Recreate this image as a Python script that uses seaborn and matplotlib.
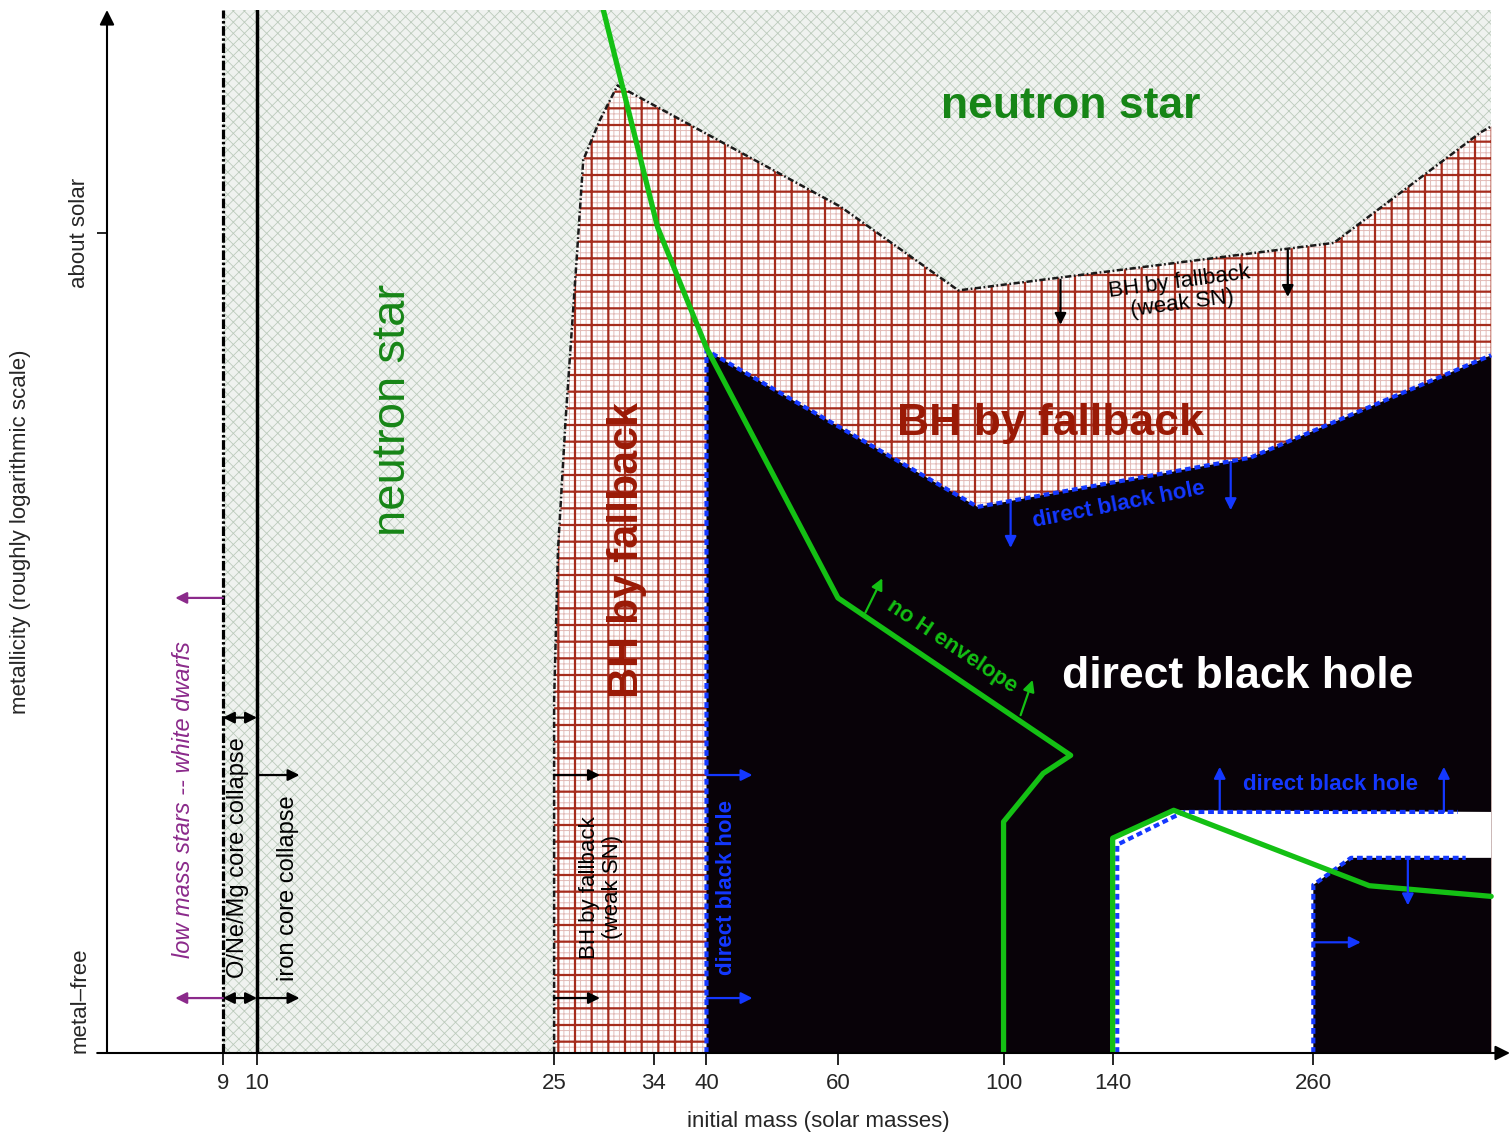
import matplotlib
matplotlib.use('Agg')
import matplotlib.pyplot as plt
from matplotlib.ticker import NullLocator
import pandas as pd
import seaborn as sns

# x = initial mass (solar masses, log axis), y = metallicity index (0 = metal-free, 1 = about solar)
mass_ticks = [9, 10, 25, 34, 40, 60, 100, 140, 260]
mass_tick_labels = ['9', '10', '25', '34', '40', '60', '100', '140', '260']
z_ticks = [0, 1]
z_tick_labels = ['metal\u2013free', 'about solar']

M_WD, M_IRON, M_MAX = 9, 10, 450
Z_TOP = 1.272

# neutron star | BH by fallback boundary (dash-dot)
fallback_mass = [25, 25, 25.3, 25.9, 26.85, 27.35, 28.8, 30.4, 60.5, 87, 277, 436, 450]
fallback_z = [0, 0.43, 0.613, 0.772, 0.979, 1.089, 1.138, 1.18, 1.032, 0.93, 0.988, 1.123, 1.13]

# BH by fallback | direct black hole boundary (blue dashed)
direct_mass = [40, 40, 92.3, 214, 450]
direct_z = [0, 0.857, 0.666, 0.726, 0.851]

# pair-instability gap (no remnant)
pisn_mass = [140, 140, 169, 450, 450, 292, 260, 260]
pisn_z = [0, 0.262, 0.296, 0.294, 0.238, 0.238, 0.205, 0]
pisn_left_mass = [142, 142, 169, 175, 406]
pisn_left_z = [0, 0.254, 0.288, 0.294, 0.294]
pisn_right_mass = [260, 260, 292, 416]
pisn_right_z = [0, 0.205, 0.238, 0.238]

# loss of hydrogen envelope (green)
noh_mass = [29.1, 34.4, 40, 60, 123, 113, 100, 100]
noh_z = [1.272, 1.007, 0.86, 0.555, 0.363, 0.341, 0.282, 0]
noh2_mass = [140, 140, 169, 309, 450]
noh2_z = [0, 0.262, 0.296, 0.204, 0.191]

GREEN_TXT = '#168516'
GREEN = '#14c014'
RED_TXT = '#9a1a06'
BLUE = '#1438ff'
PURPLE = '#8b2a8b'
BH_BLACK = '#080208'

# text labels: text, mass, z, rotation, color, size, weight, style
labels = [
    ('neutron star', 123, 1.154, 0, GREEN_TXT, 32, 'bold', 'normal'),
    ('neutron star', 15.2, 0.784, 90, GREEN_TXT, 34, 'normal', 'normal'),
    ('BH by fallback', 31.3, 0.613, 90, RED_TXT, 31, 'bold', 'normal'),
    ('BH by fallback', 115.6, 0.768, 0, RED_TXT, 32, 'bold', 'normal'),
    ('direct black hole', 205.9, 0.459, 0, 'white', 32, 'bold', 'normal'),
    ('direct black hole', 42.5, 0.202, 90, BLUE, 16, 'bold', 'normal'),
    ('direct black hole', 142.6, 0.668, 11, BLUE, 16, 'bold', 'normal'),
    ('direct black hole', 274.4, 0.327, 0, BLUE, 16, 'bold', 'normal'),
    ('BH by fallback\n(weak SN)', 28.9, 0.202, 90, 'black', 16, 'normal', 'normal'),
    ('BH by fallback\n(weak SN)', 172.7, 0.927, 7.6, 'black', 16, 'normal', 'normal'),
    ('no H envelope', 85.4, 0.496, -33.7, GREEN, 16, 'bold', 'normal'),
    ('low mass stars -- white dwarfs', 7.96, 0.309, 90, PURPLE, 17, 'normal', 'italic'),
    ('O/Ne/Mg core collapse', 9.43, 0.238, 90, 'black', 17, 'normal', 'normal'),
    ('iron core collapse', 11.0, 0.201, 90, 'black', 17, 'normal', 'normal'),
]

# arrows: mass0, z0, mass1, z1, color, style
arrows = [
    (9, 0.555, 7.77, 0.555, PURPLE, '-|>'),
    (9, 0.067, 7.77, 0.067, PURPLE, '-|>'),
    (9, 0.409, 10, 0.409, 'black', '<|-|>'),
    (9, 0.067, 10, 0.067, 'black', '<|-|>'),
    (10, 0.339, 11.4, 0.339, 'black', '-|>'),
    (10, 0.067, 11.4, 0.067, 'black', '-|>'),
    (25, 0.339, 28.8, 0.339, 'black', '-|>'),
    (25, 0.067, 28.8, 0.067, 'black', '-|>'),
    (40, 0.339, 46.1, 0.339, BLUE, '-|>'),
    (40, 0.067, 46.1, 0.067, BLUE, '-|>'),
    (119.2, 0.943, 119.2, 0.888, 'black', '-|>'),
    (240.3, 0.979, 240.3, 0.922, 'black', '-|>'),
    (102.2, 0.674, 102.2, 0.616, BLUE, '-|>'),
    (201.5, 0.721, 201.5, 0.662, BLUE, '-|>'),
    (65.3, 0.537, 68.8, 0.579, GREEN, '-|>'),
    (105.4, 0.412, 109.4, 0.455, GREEN, '-|>'),
    (194.8, 0.294, 194.8, 0.349, BLUE, '-|>'),
    (388.9, 0.294, 388.9, 0.349, BLUE, '-|>'),
    (348, 0.238, 348, 0.180, BLUE, '-|>'),
    (260, 0.135, 301, 0.135, BLUE, '-|>'),
]

sns.set_theme(style='ticks')
plt.rcParams['font.family'] = ['Liberation Sans', 'DejaVu Sans']


def hatched(ax, xs, ys, face, hcolor, hatch, hlw, z):
    p = ax.fill(xs, ys, facecolor=face, edgecolor=hcolor, hatch=hatch, linewidth=0, zorder=z)[0]
    if hasattr(p, 'set_hatch_linewidth'):
        p.set_hatch_linewidth(hlw)
    return p


fig = plt.figure(figsize=(15.12, 11.34), dpi=100)
ax = fig.add_axes([107 / 1512, 81 / 1134, 1403 / 1512, 1043 / 1134])
ax.set_xscale('log')
ax.set_xlim(6.295, 476.9)
ax.set_ylim(0, Z_TOP)

# neutron star background
plt.rcParams['hatch.linewidth'] = 0.6
hatched(ax, [M_WD, M_MAX, M_MAX, M_WD], [0, 0, Z_TOP, Z_TOP], '#eff2ef', '#bccbbc', 'xxx', 0.6, 1)

# BH by fallback (red grid)
fb_x = fallback_mass + [M_MAX]
fb_y = fallback_z + [0]
plt.rcParams['hatch.linewidth'] = 0.7
hatched(ax, fb_x, fb_y, 'white', '#e3bcb8', '+++', 0.7, 2)
plt.rcParams['hatch.linewidth'] = 1.6
hatched(ax, fb_x, fb_y, 'none', '#a52c1c', '+', 1.6, 2.1)

# direct black hole
ax.fill(direct_mass + [M_MAX], direct_z + [0], color=BH_BLACK, linewidth=0, zorder=3)
ax.fill(pisn_mass, pisn_z, color='white', linewidth=0, zorder=3.5)

# boundaries
ax.plot(fallback_mass, fallback_z, color='#1a1a1a', lw=1.8,
        linestyle=(0, (2.5, 1.0, 0.7, 1.0)), zorder=5)
for xs, ys in [(direct_mass, direct_z), (pisn_left_mass, pisn_left_z),
               (pisn_right_mass, pisn_right_z)]:
    ax.plot(xs, ys, color=BLUE, lw=3.0, linestyle=(0, (1.4, 0.9)), zorder=5)
ax.plot([M_WD, M_WD], [0, Z_TOP], color='black', lw=2.3, linestyle=(0, (3, 0.8, 0.8, 0.8)), zorder=5)
ax.plot([M_IRON, M_IRON], [0, Z_TOP], color='black', lw=2.5, zorder=5)

# hydrogen envelope lines
for xs, ys in [(noh_mass, noh_z), (noh2_mass, noh2_z)]:
    df = pd.DataFrame({'mass': xs, 'z': ys})
    sns.lineplot(data=df, x='mass', y='z', sort=False, estimator=None, color=GREEN,
                 lw=3.8, ax=ax, zorder=6)

for x0, y0, x1, y1, c, st in arrows:
    ax.annotate('', xy=(x1, y1), xytext=(x0, y0),
                arrowprops=dict(arrowstyle=st, color=c, lw=1.6, mutation_scale=17,
                                shrinkA=0, shrinkB=0), zorder=7)

for s, x, y, rot, c, fs, fw, fst in labels:
    ax.text(x, y, s, rotation=rot, color=c, fontsize=fs, fontweight=fw, fontstyle=fst,
            ha='center', va='center', rotation_mode='anchor', multialignment='center',
            linespacing=1.1, zorder=8)

# axes with arrow heads
for sp in ax.spines.values():
    sp.set_visible(False)
ax.annotate('', xy=(0, 1.0), xytext=(0, 0), xycoords='axes fraction',
            arrowprops=dict(arrowstyle='-|>', color='black', lw=1.5, mutation_scale=22,
                            shrinkA=0, shrinkB=0), zorder=10, annotation_clip=False)
ax.annotate('', xy=(1.0, 0), xytext=(-0.007, 0), xycoords='axes fraction',
            arrowprops=dict(arrowstyle='-|>', color='black', lw=1.5, mutation_scale=22,
                            shrinkA=0, shrinkB=0), zorder=10, annotation_clip=False)

ax.set_xticks(mass_ticks)
ax.set_xticklabels(mass_tick_labels)
ax.xaxis.set_minor_locator(NullLocator())
ax.tick_params(axis='x', length=8.6, width=1.2, pad=6, labelsize=16, color='black')
ax.set_yticks(z_ticks)
ax.set_yticklabels(z_tick_labels, rotation=90)
ax.tick_params(axis='y', length=7, width=1.2, pad=5, labelsize=16, color='black')
ylabs = ax.get_yticklabels()
ylabs[0].set_va('bottom')
ylabs[1].set_va('center')

ax.set_xlabel('initial mass (solar masses)', fontsize=16)
ax.set_ylabel('metallicity (roughly logarithmic scale)', fontsize=16)
ax.xaxis.set_label_coords(0.507, -0.056)
ax.yaxis.set_label_coords(-0.054, 0.5)

fig.savefig('out.png', dpi=100, facecolor='white')
